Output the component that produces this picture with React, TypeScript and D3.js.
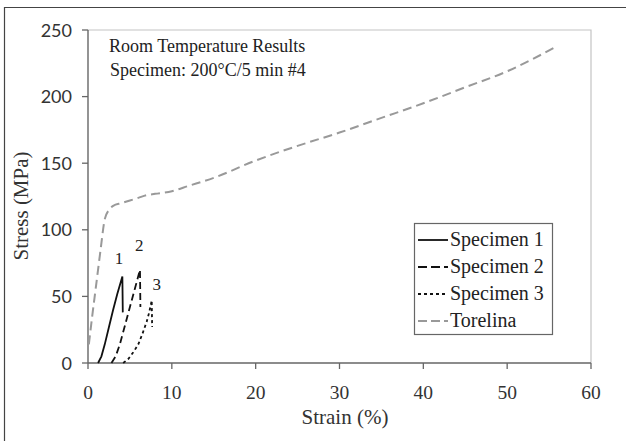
import React from "react";
import * as d3 from "d3";

const xTicks = [0, 10, 20, 30, 40, 50, 60];
const yTicks = [0, 50, 100, 150, 200, 250];

const torelinaStrain = [0.1, 0.5, 1.0, 1.5, 2.0, 2.5, 3, 4, 5, 6, 7, 8, 10, 12, 15, 20, 25, 30, 35, 40, 45, 50, 56];
const torelinaStress = [14, 35, 60, 85, 108, 115, 118, 120, 122, 124, 126, 127, 129, 133, 139, 152, 163, 173, 184, 195, 207, 219, 238];

const spec1Strain = [1.2, 1.6, 2.0, 2.5, 3.0, 3.5, 4.1, 4.15];
const spec1Stress = [0, 5, 14, 27, 40, 52, 65, 38];

const spec2Strain = [2.8, 3.3, 3.8, 4.4, 5.0, 5.6, 6.2, 6.25];
const spec2Stress = [0, 5, 14, 28, 42, 56, 70, 42];

const spec3Strain = [4.2, 4.8, 5.4, 6.0, 6.5, 7.0, 7.3, 7.6, 7.65];
const spec3Stress = [0, 3, 8, 14, 22, 31, 38, 47, 27];

const seriesNames = ["Specimen 1", "Specimen 2", "Specimen 3", "Torelina"];
const curveLabels = ["1", "2", "3"];
const curveLabelPos = [[3.7, 74], [6.1, 84], [8.2, 55]];

const serif = "'Liberation Serif', 'Times New Roman', serif";
const sans = "Lato, 'Open Sans', sans-serif";

export default function App() {
  const W = 626, H = 441;
  const x = d3.scaleLinear().domain([0, 60]).range([88, 591]);
  const y = d3.scaleLinear().domain([0, 250]).range([363, 30]);

  const mk = (xs: number[], ys: number[]) => xs.map((v, i) => [v, ys[i]] as [number, number]);
  const lin = d3.line<[number, number]>().x(d => x(d[0])).y(d => y(d[1]));
  const smooth = d3.line<[number, number]>().x(d => x(d[0])).y(d => y(d[1])).curve(d3.curveMonotoneX);

  const styles = [
    { stroke: "#111", dash: "none", w: 1.8 },
    { stroke: "#111", dash: "7,4", w: 1.8 },
    { stroke: "#111", dash: "3,3", w: 1.8 },
    { stroke: "#999", dash: "9,5", w: 2 },
  ];

  const specs = [mk(spec1Strain, spec1Stress), mk(spec2Strain, spec2Stress), mk(spec3Strain, spec3Stress)];
  const tor = mk(torelinaStrain, torelinaStress);

  const legX = 414, legY = 223, legW = 138, legH = 111;
  const rowY = [240, 267, 294, 321];

  return (
    <svg width={W} height={H} style={{ position: "absolute", left: 0, top: 0, background: "#fff" }}>
      <rect x={0} y={0} width={W} height={H} fill="#fff" />
      <path d={`M4.5,${H} V7.5 H${W}`} fill="none" stroke="#444" strokeWidth={1.2} />
      <path d={`M${x(0)},${y(250)} H${x(60)} V${y(0)}`} fill="none" stroke="#c4c4c4" strokeWidth={1.2} />
      <line x1={x(0)} x2={x(0)} y1={y(0)} y2={y(250)} stroke="#666" strokeWidth={1.4} />
      <line x1={x(0)} x2={x(60)} y1={y(0)} y2={y(0)} stroke="#666" strokeWidth={1.4} />
      {yTicks.map(t => (
        <g key={"y" + t}>
          <line x1={x(0) - 6} x2={x(0)} y1={y(t)} y2={y(t)} stroke="#666" strokeWidth={1.3} />
          <text x={72} y={y(t) + 6.5} textAnchor="end" fontFamily={sans} fontSize={18} fill="#333">{t}</text>
        </g>
      ))}
      {xTicks.map(t => (
        <g key={"x" + t}>
          <line x1={x(t)} x2={x(t)} y1={y(0)} y2={y(0) + 6} stroke="#666" strokeWidth={1.3} />
          <text x={x(t)} y={399} textAnchor="middle" fontFamily={serif} fontSize={19.5} fill="#333">{t}</text>
        </g>
      ))}
      <text x={345} y={424} textAnchor="middle" fontFamily={serif} fontSize={21} fill="#333">Strain (%)</text>
      <text transform={`translate(28,206) rotate(-90)`} textAnchor="middle" fontFamily={serif} fontSize={21} fill="#333">Stress (MPa)</text>

      <text x={109} y={52} fontFamily={serif} fontSize={18} fill="#222">Room Temperature Results</text>
      <text x={110} y={76} fontFamily={serif} fontSize={18} fill="#222">Specimen: 200°C/5 min #4</text>

      <path d={smooth(tor) || ""} fill="none" stroke={styles[3].stroke} strokeWidth={styles[3].w} strokeDasharray={styles[3].dash} />
      {specs.map((s, i) => (
        <path key={"s" + i} d={lin(s) || ""} fill="none" stroke={styles[i].stroke} strokeWidth={styles[i].w} strokeDasharray={styles[i].dash} />
      ))}
      {curveLabels.map((l, i) => (
        <text key={"l" + i} x={x(curveLabelPos[i][0])} y={y(curveLabelPos[i][1])} textAnchor="middle" fontFamily={serif} fontSize={17} fill="#222">{l}</text>
      ))}

      <rect x={legX + 0.5} y={legY + 0.5} width={legW} height={legH} fill="#fff" stroke="#666" strokeWidth={1.2} />
      {seriesNames.map((n, i) => (
        <g key={"lg" + i}>
          <line x1={418} x2={448} y1={rowY[i]} y2={rowY[i]} stroke={styles[i].stroke} strokeWidth={styles[i].w} strokeDasharray={i === 0 ? "none" : i === 2 ? "3,3" : "9,4"} />
          <text x={450} y={rowY[i] + 6} fontFamily={serif} fontSize={20} fill="#222">{n}</text>
        </g>
      ))}
    </svg>
  );
}
